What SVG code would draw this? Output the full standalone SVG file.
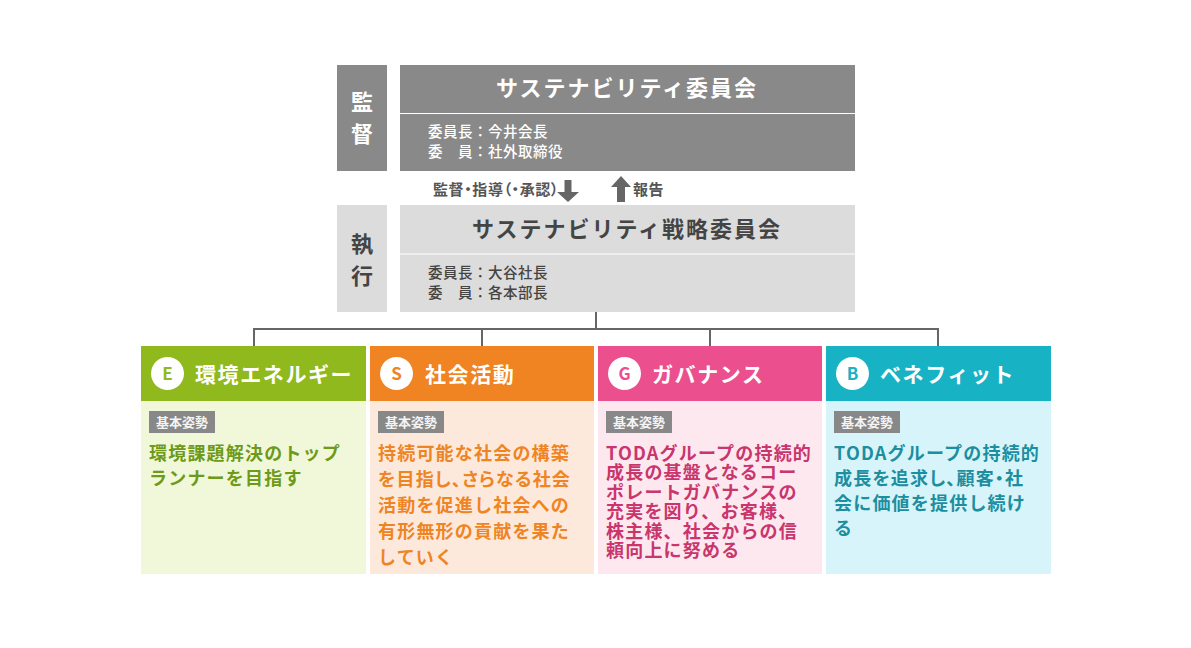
<svg xmlns="http://www.w3.org/2000/svg" width="1191" height="648" viewBox="0 0 1191 648">
<style>
text{font-family:"Noto Sans CJK JP","Noto Sans",sans-serif;}
.side{font-size:22px;font-weight:700;text-anchor:middle;}
.title{font-size:22px;font-weight:700;text-anchor:middle;letter-spacing:2px;}
.mem{font-size:14.5px;font-weight:500;letter-spacing:0.5px;}
.arr{font-size:15px;font-weight:700;fill:#555;}
.hdr{font-size:21px;font-weight:700;fill:#fff;letter-spacing:1.6px;}
.letter{font-size:17px;font-weight:700;text-anchor:middle;}
.badge{fill:#888;}
.btxt{font-size:13px;font-weight:700;fill:#f4f4f4;}
.body{font-size:18px;font-weight:700;letter-spacing:1.2px;}
.conn{stroke:#666;stroke-width:2;fill:none;}
</style>
<rect width="1191" height="648" fill="#fff"/>

<g id="label-kansa">
<rect x="337" y="65" width="50" height="106" fill="#898989"/>
<text class="side" x="362" y="110" fill="#fff">監</text>
<text class="side" x="362" y="142" fill="#fff">督</text>
</g>
<g id="sustainability-committee">
<rect x="400" y="65" width="455" height="106" fill="#898989"/>
<line x1="400" y1="113.5" x2="855" y2="113.5" stroke="#fff" stroke-width="1"/>
<text class="title" x="627" y="96" fill="#fff">サステナビリティ委員会</text>
<text class="mem" x="428" y="137" fill="#fff">委員長：今井会長</text>
<text class="mem" x="428" y="157" fill="#fff">委　員：社外取締役</text>
</g>

<g id="label-shikko">
<rect x="337" y="205" width="50" height="107" fill="#dcdcdc"/>
<text class="side" x="362" y="252" fill="#444">執</text>
<text class="side" x="362" y="284" fill="#444">行</text>
</g>
<g id="strategy-committee">
<rect x="400" y="205" width="455" height="107" fill="#dcdcdc"/>
<line x1="400" y1="254" x2="855" y2="254" stroke="#fff" stroke-width="1"/>
<text class="title" x="627" y="237" fill="#444">サステナビリティ戦略委員会</text>
<text class="mem" x="428" y="277.5" fill="#444">委員長：大谷社長</text>
<text class="mem" x="428" y="298" fill="#444">委　員：各本部長</text>
</g>

<g id="connectors">
<text class="arr" x="433" y="195" style="font-feature-settings:'palt'" letter-spacing="0.6">監督・指導（・承認）</text>
<polygon points="564.5,180 571.5,180 571.5,192 579,192 568,202 557,192 564.5,192" fill="#666"/>
<polygon points="617,202 625,202 625,187 631,187 621,176 611,187 617,187" fill="#666"/>
<text class="arr" x="633" y="195" letter-spacing="0.5">報告</text>
<path class="conn" d="M596,312 V329 M254,329 H938 M254,328 V346 M482,328 V346 M710,328 V346 M938,328 V346"/>
</g>

<g id="card-e">
<rect x="141" y="346" width="225" height="228" fill="#f1f8d9"/>
<rect x="141" y="346" width="225" height="55" fill="#8fb91c"/>
<circle cx="167.5" cy="373.5" r="16.5" fill="#fff"/>
<text class="letter" x="167.5" y="379.5" fill="#8fb91c">E</text>
<text class="hdr" x="195" y="382">環境エネルギー</text>
<rect class="badge" x="149" y="411" width="66" height="22"/>
<text class="btxt" x="156" y="427">基本姿勢</text>
<text class="body" fill="#6e9a1a"><tspan x="149" y="459.5">環境課題解決のトップ</tspan><tspan x="149" y="484.5">ランナーを目指す</tspan></text>
</g>

<g id="card-s">
<rect x="370" y="346" width="224" height="228" fill="#fde9db"/>
<rect x="370" y="346" width="224" height="55" fill="#f08322"/>
<circle cx="396.5" cy="373.5" r="16.5" fill="#fff"/>
<text class="letter" x="396.5" y="379.5" fill="#f08322">S</text>
<text class="hdr" x="425" y="382">社会活動</text>
<rect class="badge" x="378" y="411" width="66" height="22"/>
<text class="btxt" x="385" y="427">基本姿勢</text>
<text class="body" fill="#ef8423"><tspan x="378" y="459.5">持続可能な社会の構築</tspan><tspan x="378" y="485.5" style="font-feature-settings:'palt'">を目指し、さらなる社会</tspan><tspan x="378" y="511.5">活動を促進し社会への</tspan><tspan x="378" y="537.5">有形無形の貢献を果た</tspan><tspan x="378" y="563.5">していく</tspan></text>
</g>

<g id="card-g">
<rect x="598" y="346" width="224" height="228" fill="#fde8ef"/>
<rect x="598" y="346" width="224" height="55" fill="#eb4f8d"/>
<circle cx="624.5" cy="373.5" r="16.5" fill="#fff"/>
<text class="letter" x="624.5" y="379.5" fill="#eb4f8d">G</text>
<text class="hdr" x="652" y="382">ガバナンス</text>
<rect class="badge" x="606" y="411" width="66" height="22"/>
<text class="btxt" x="613" y="427">基本姿勢</text>
<text class="body" fill="#c9356c"><tspan x="606" y="459.5">TODAグループの持続的</tspan><tspan x="606" y="479">成長の基盤となるコー</tspan><tspan x="606" y="498.5">ポレートガバナンスの</tspan><tspan x="606" y="518">充実を図り、お客様、</tspan><tspan x="606" y="537.5">株主様、社会からの信</tspan><tspan x="606" y="557">頼向上に努める</tspan></text>
</g>

<g id="card-b">
<rect x="826" y="346" width="225" height="228" fill="#d7f4fa"/>
<rect x="826" y="346" width="225" height="55" fill="#18b2c5"/>
<circle cx="852.5" cy="373.5" r="16.5" fill="#fff"/>
<text class="letter" x="852.5" y="379.5" fill="#18b2c5">B</text>
<text class="hdr" x="880" y="382">ベネフィット</text>
<rect class="badge" x="834" y="411" width="66" height="22"/>
<text class="btxt" x="841" y="427">基本姿勢</text>
<text class="body" fill="#1c8ea0"><tspan x="834" y="459.5">TODAグループの持続的</tspan><tspan x="834" y="484.5" style="font-feature-settings:'palt'">成長を追求し、顧客・社</tspan><tspan x="834" y="509.5">会に価値を提供し続け</tspan><tspan x="834" y="534.5">る</tspan></text>
</g>
</svg>
